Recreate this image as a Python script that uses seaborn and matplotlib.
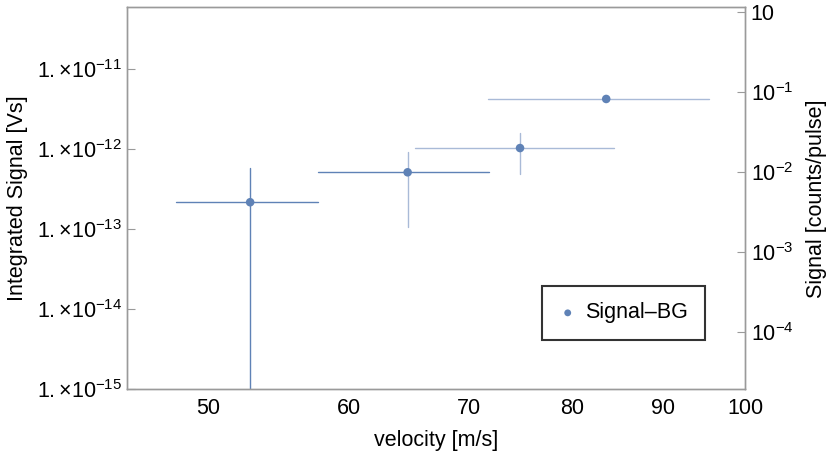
import matplotlib
matplotlib.use("Agg")
import matplotlib.pyplot as plt
from matplotlib.ticker import FixedLocator, NullFormatter, FixedFormatter, NullLocator
import seaborn as sns
import pandas as pd

# ---- данные ----
velocity = [52.8, 64.7, 74.8, 83.6]
v_low = [48.0, 57.6, 65.3, 71.8]
v_high = [57.6, 71.9, 84.4, 95.5]
signal = [2.18e-13, 5.16e-13, 1.037e-12, 4.26e-12]
sig_low = [1e-16, 1.08e-13, 4.91e-13, 4.26e-12]
sig_high = [5.79e-13, 9.17e-13, 1.613e-12, 4.26e-12]
# цвет планок погрешностей: у правых точек светлее
xbar_colors = ["#5f82b6", "#5f82b6", "#a9bad7", "#a9bad7"]
ybar_colors = ["#5f82b6", "#a9bad7", "#a9bad7", "#a9bad7"]

x_ticks = [50, 60, 70, 80, 90, 100]
x_minor = [46, 48, 52, 54, 56, 58, 62, 64, 66, 68, 72, 74, 76, 78,
           82, 84, 86, 88, 92, 94, 96, 98]
left_ticks = [1e-15, 1e-14, 1e-13, 1e-12, 1e-11]
left_labels = [r"$1.{\times}10^{-15}$", r"$1.{\times}10^{-14}$", r"$1.{\times}10^{-13}$",
               r"$1.{\times}10^{-12}$", r"$1.{\times}10^{-11}$"]
right_ticks = [1e-4, 1e-3, 1e-2, 1e-1, 1]
right_labels = [r"$10^{-4}$", r"$10^{-3}$", r"$10^{-2}$", r"$10^{-1}$", "10"]

df = pd.DataFrame({"velocity": velocity, "signal": signal})

# ---- оформление ----
sns.set_theme(style="white")
plt.rcParams["font.family"] = ["Liberation Sans", "DejaVu Sans"]
plt.rcParams["mathtext.fontset"] = "custom"
plt.rcParams["mathtext.rm"] = "Liberation Sans"
plt.rcParams["mathtext.it"] = "Liberation Sans:italic"
plt.rcParams["mathtext.bf"] = "Liberation Sans:bold"
plt.rcParams["text.color"] = "black"
plt.rcParams["axes.labelcolor"] = "black"
plt.rcParams["xtick.color"] = "black"
plt.rcParams["ytick.color"] = "black"

gray = "#9a9a9a"
fs = 15.5

fig = plt.figure(figsize=(8.3, 4.58), dpi=100)
ax = fig.add_axes([0.1534, 0.15, 0.8976 - 0.1534, 0.984 - 0.15])

# планки погрешностей
for i in range(len(velocity)):
    ax.plot([v_low[i], v_high[i]], [signal[i], signal[i]], color=xbar_colors[i], lw=1.0, zorder=2)
    if sig_high[i] > sig_low[i]:
        ax.plot([velocity[i], velocity[i]], [sig_low[i], sig_high[i]], color=ybar_colors[i], lw=1.0, zorder=2)

sns.scatterplot(data=df, x="velocity", y="signal", ax=ax, color="#5f82b6", s=38,
                edgecolor="none", label="Signal\u2013BG", zorder=3)

ax.set_xscale("log")
ax.set_yscale("log")
ax.set_xlim(45.06, 100)
ax.set_ylim(1e-15, 10 ** -10.225)

ax.xaxis.set_major_locator(FixedLocator(x_ticks))
ax.xaxis.set_major_formatter(FixedFormatter([str(t) for t in x_ticks]))
ax.xaxis.set_minor_locator(FixedLocator(x_minor))
ax.xaxis.set_minor_formatter(NullFormatter())
ax.yaxis.set_major_locator(FixedLocator(left_ticks))
ax.yaxis.set_major_formatter(FixedFormatter(left_labels))
ax.yaxis.set_minor_locator(NullLocator())

ax.tick_params(axis="x", which="major", direction="in", length=6, width=0.8, color=gray,
               labelsize=fs, pad=6, top=False, labelcolor="black")
ax.tick_params(axis="x", which="minor", direction="in", length=3.5, width=0.8, color=gray, top=False)
ax.tick_params(axis="y", which="major", direction="in", length=6, width=0.8, color=gray,
               labelsize=fs, pad=4, labelcolor="black")
for s in ax.spines.values():
    s.set_color(gray)
    s.set_linewidth(1.0)

ax.set_xlabel("velocity [m/s]", fontsize=fs, labelpad=8)
ax.set_ylabel("Integrated Signal [Vs]", fontsize=fs, labelpad=6)

# правая ось
ax2 = ax.twinx()
ax2.set_yscale("log")
ax2.set_ylim(10 ** -4.72, 10 ** 0.055)
ax2.yaxis.set_major_locator(FixedLocator(right_ticks))
ax2.yaxis.set_major_formatter(FixedFormatter(right_labels))
ax2.yaxis.set_minor_locator(NullLocator())
ax2.tick_params(axis="y", which="major", direction="in", length=6, width=0.8, color=gray,
                labelsize=fs, pad=4, labelcolor="black")
for s in ax2.spines.values():
    s.set_color(gray)
    s.set_linewidth(1.0)
ax2.set_ylabel("Signal [counts/pulse]", fontsize=fs, labelpad=9)

# легенда
leg = ax.legend(loc="upper left",
                bbox_to_anchor=((542.3 - 127.3) / (745 - 127.3), 1 - (285.7 - 7.3) / (389.3 - 7.3)),
                borderaxespad=0, fontsize=fs, frameon=True, fancybox=False, handletextpad=0.4,
                borderpad=0.78, handlelength=0.8, markerscale=0.8)
leg.get_frame().set_edgecolor("black")
leg.get_frame().set_linewidth(1.5)

fig.savefig("out.png", dpi=100)
